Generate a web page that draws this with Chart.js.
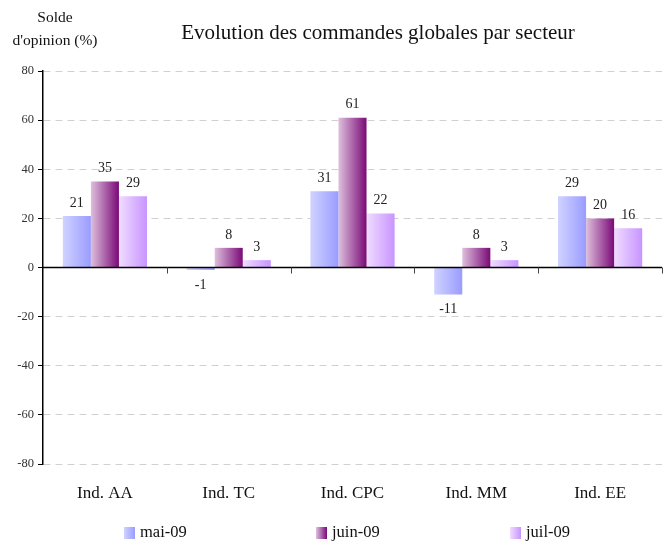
<!DOCTYPE html>
<html>
<head>
<meta charset="utf-8">
<script src="https://cdn.jsdelivr.net/npm/chart.js@4"></script>
<style>
  html, body { margin: 0; padding: 0; background: #fff; }
  #wrap { width: 666px; height: 544px; }
</style>
</head>
<body>
<div id="wrap"><canvas id="myChart" width="666" height="544"></canvas></div>
<script>
// données
const secteurs = ["Ind. AA", "Ind. TC", "Ind. CPC", "Ind. MM", "Ind. EE"];
const mois = ["mai-09", "juin-09", "juil-09"];
const mai09 = [21, -1, 31, -11, 29];
const juin09 = [35, 8, 61, 8, 20];
const juil09 = [29, 3, 22, 3, 16];
const yTicks = [-80, -60, -40, -20, 0, 20, 40, 60, 80];

const police = "'Liberation Serif', 'Times New Roman', serif";
// dégradés gauche -> droite pour chaque série
const degrades = [
  ["#d0d3ff", "#9a9cff"],
  ["#dec0dc", "#7a0a78"],
  ["#f0dcff", "#c894ff"],
];
const CAT_PCT = 0.68;

function remplissage(ctx) {
  const chart = ctx.chart;
  const x = chart.scales.x;
  const couleurs = degrades[ctx.datasetIndex];
  if (!chart.chartArea || !x || ctx.dataIndex === undefined) return couleurs[1];
  const catW = x.width / secteurs.length;
  const barW = (catW * CAT_PCT) / mois.length;
  const gauche = x.getPixelForValue(ctx.dataIndex) - (catW * CAT_PCT) / 2 + ctx.datasetIndex * barW;
  const g = chart.ctx.createLinearGradient(gauche, 0, gauche + barW, 0);
  g.addColorStop(0, couleurs[0]);
  g.addColorStop(1, couleurs[1]);
  return g;
}

// textes, ligne du zéro, valeurs et légende
const decor = {
  id: "decor",
  afterDatasetsDraw(chart) {
    const ctx = chart.ctx;
    const x = chart.scales.x;
    const y = chart.scales.y;
    const y0 = y.getPixelForValue(0);
    const catW = x.width / secteurs.length;
    ctx.save();
    ctx.strokeStyle = "#000";
    ctx.lineWidth = 1.5;
    ctx.beginPath();
    ctx.moveTo(chart.chartArea.left, y0);
    ctx.lineTo(chart.chartArea.right, y0);
    ctx.stroke();
    ctx.lineWidth = 1;
    ctx.strokeStyle = "#444";
    for (let i = 1; i <= secteurs.length; i++) {
      const px = Math.round(x.getPixelForValue(i) - catW / 2) + 0.5;
      ctx.beginPath();
      ctx.moveTo(px, y0);
      ctx.lineTo(px, y0 + 6);
      ctx.stroke();
    }
    ctx.fillStyle = "#222";
    ctx.font = "14px " + police;
    ctx.textAlign = "center";
    ctx.textBaseline = "middle";
    chart.data.datasets.forEach((ds, di) => {
      chart.getDatasetMeta(di).data.forEach((el, i) => {
        const v = ds.data[i];
        ctx.fillText(String(v), el.x, v >= 0 ? el.y - 13 : el.y + 15);
      });
    });
    ctx.restore();
  },
  afterDraw(chart) {
    const ctx = chart.ctx;
    ctx.save();
    ctx.fillStyle = "#111";
    ctx.textAlign = "center";
    ctx.textBaseline = "middle";
    ctx.font = "21px " + police;
    ctx.fillText("Evolution des commandes globales par secteur", 378, 33);
    ctx.font = "15.5px " + police;
    ctx.fillText("Solde", 55, 18);
    ctx.fillText("d'opinion (%)", 55, 41);

    // légende
    const posLegende = [124, 316, 510];
    ctx.font = "16.5px " + police;
    ctx.textAlign = "left";
    mois.forEach((m, i) => {
      const bx = posLegende[i];
      const g = ctx.createLinearGradient(bx, 0, bx + 11, 0);
      g.addColorStop(0, degrades[i][0]);
      g.addColorStop(1, degrades[i][1]);
      ctx.fillStyle = g;
      ctx.fillRect(bx, 527, 11, 12);
      ctx.fillStyle = "#111";
      ctx.fillText(m, bx + 16, 533);
    });
    ctx.restore();
  },
};

const config = {
  type: "bar",
  data: {
    labels: secteurs,
    datasets: [
      { label: mois[0], data: mai09, backgroundColor: remplissage },
      { label: mois[1], data: juin09, backgroundColor: remplissage },
      { label: mois[2], data: juil09, backgroundColor: remplissage },
    ],
  },
  options: {
    responsive: false,
    animation: false,
    layout: { padding: { top: 71, right: 4, left: 0, bottom: 40 } },
    datasets: { bar: { barPercentage: 1, categoryPercentage: CAT_PCT } },
    scales: {
      x: {
        grid: { display: false },
        border: { display: false },
        afterFit: (axis) => { axis.height = 40; },
        ticks: { color: "#111", font: { family: police, size: 17 }, padding: 11 },
      },
      y: {
        min: -80,
        max: 80,
        afterBuildTicks: (axis) => { axis.ticks = yTicks.map((v) => ({ value: v })); },
        afterFit: (axis) => { axis.width = 43; },
        grid: {
          color: (c) => (c.tick && c.tick.value === 0 ? "rgba(0,0,0,0)" : "#d0d0d0"),
          tickColor: "#000",
          tickLength: 5,
        },
        border: { color: "#000", width: 1.5, dash: [7, 5] },
        ticks: { color: "#333", font: { family: police, size: 12.5 }, padding: 4 },
      },
    },
    plugins: {
      title: { display: false },
      tooltip: { enabled: false },
      legend: { display: false },
    },
  },
  plugins: [decor],
};

const myChart = new Chart(document.getElementById("myChart"), config);
</script>
</body>
</html>
